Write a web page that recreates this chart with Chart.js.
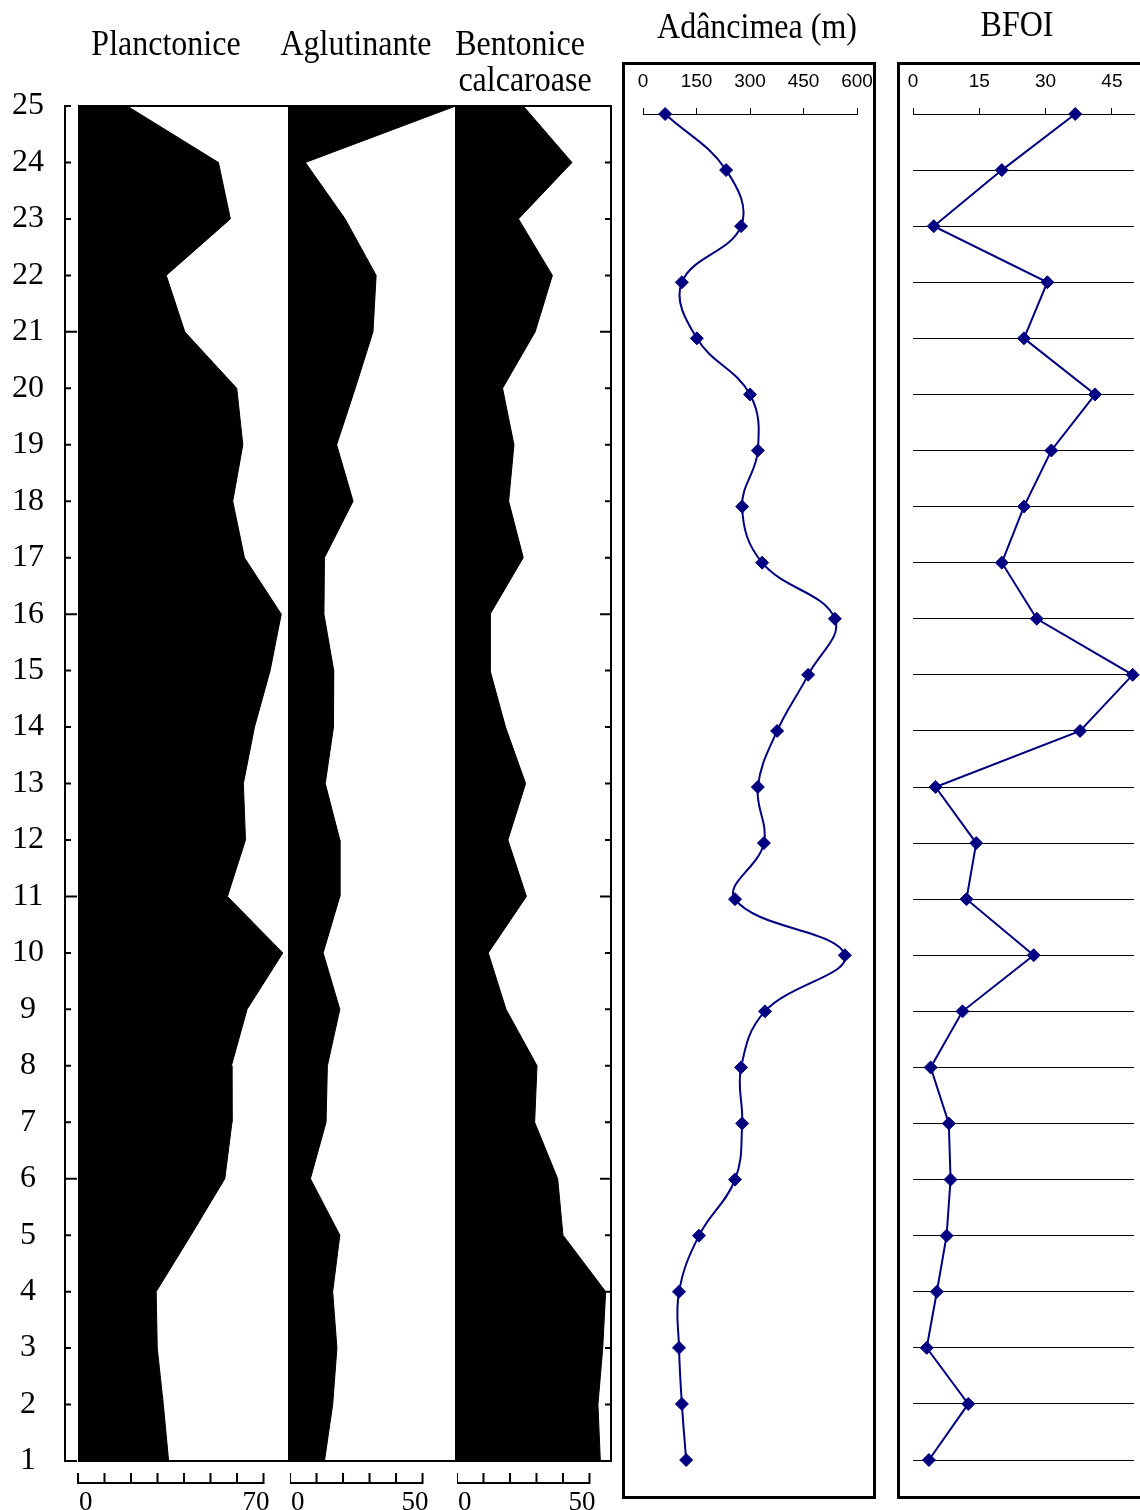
<!DOCTYPE html>
<html>
<head>
<meta charset="utf-8">
<script src="https://cdn.jsdelivr.net/npm/chart.js@4.4.1/dist/chart.umd.min.js"></script>
<style>
html,body{margin:0;padding:0;background:#fff;}
body{width:1140px;height:1510px;overflow:hidden;position:relative;}
canvas{position:absolute;}
.t{position:absolute;width:300px;text-align:center;font-family:"Liberation Serif",serif;font-size:32px;line-height:32px;color:#000;white-space:nowrap;transform:scaleY(1.15);transform-origin:50% 27px;}
.box{position:absolute;box-sizing:border-box;border:3px solid #000;}
</style>
</head>
<body>
<div class="box" style="left:622px;top:62px;width:254px;height:1437px"></div>
<div class="box" style="left:897px;top:62px;width:280px;height:1437px"></div>
<canvas id="cP" width="290" height="1510" style="left:0;top:0"></canvas>
<canvas id="cA" width="167" height="1510" style="left:290px;top:0"></canvas>
<canvas id="cB" width="163" height="1510" style="left:457px;top:0"></canvas>
<canvas id="cD" width="254" height="1437" style="left:622px;top:62px"></canvas>
<canvas id="cF" width="253" height="1437" style="left:897px;top:62px"></canvas>
<div class="t" style="left:16px;top:28px">Planctonice</div>
<div class="t" style="left:206px;top:28px">Aglutinante</div>
<div class="t" style="left:370px;top:28px">Bentonice</div>
<div class="t" style="left:375px;top:64px">calcaroase</div>
<div class="t" style="left:607px;top:11px">Adâncimea (m)</div>
<div class="t" style="left:867px;top:9px">BFOI</div>
<script>
// ---- data (levels from top to bottom) ----
const levels      = [25,24,23,22,21,20,19,18,17,16,15,14,13,12,11,10,9,8,7,6,5,4,3,2,1];
const planctonice = [18.5,53.0,57.5,33.3,40.3,59.9,62.2,58.4,62.8,76.7,72.5,66.6,62.4,63.2,56.4,77.3,63.8,57.9,58.1,55.4,42.6,29.5,29.9,32.2,34.2];
const aglutinante = [62.5,5.8,20.8,32.5,31.3,24.6,17.6,23.8,13.0,12.8,16.5,16.4,13.3,18.8,18.8,12.5,18.8,14.1,13.6,7.7,18.8,16.1,17.7,16.1,13.0];
const bentonice   = [25.0,43.4,23.2,36.0,29.5,17.2,21.5,19.5,25.0,12.5,12.5,18.3,25.9,19.2,26.2,11.8,18.5,30.2,29.3,38.0,40.0,56.1,55.0,53.2,54.1];
const adancime    = [62,233,275,109,151,300,322,278,334,538,463,376,322,339,258,566,342,275,278,258,157,101,101,109,121];
const bfoi        = [36.7,20.1,4.7,30.4,25.1,41.2,31.3,25.1,20.1,28.0,49.7,37.8,5.1,14.3,12.1,27.3,11.2,4.0,8.1,8.5,7.6,5.4,3.1,12.5,3.6];
// scale-bar ranges under the three columns
const barMax      = [70, 50, 50];
const panelMax    = [80, 63, 58.5];
const depthTicks  = {min: 0, max: 600, step: 150};
const bfoiTicks   = {min: 0, max: 50, step: 15};

const navy = '#000080';
const serif = '"Liberation Serif", "Times New Roman", serif';
const sans = '"Liberation Sans", Arial, sans-serif';

function stratDeco(key, bMax, leftAxis, rightTicks) {
  return {
    id: 'deco' + key,
    afterDraw(chart) {
      const {ctx, chartArea: a, scales: {x, y}} = chart;
      ctx.save();
      ctx.strokeStyle = '#000';
      ctx.fillStyle = '#000';
      ctx.lineWidth = 2;
      ctx.beginPath();
      ctx.moveTo(a.left, a.top); ctx.lineTo(a.right, a.top);
      ctx.moveTo(a.left, a.bottom); ctx.lineTo(a.right, a.bottom);
      ctx.moveTo(a.right - 1, a.top); ctx.lineTo(a.right - 1, a.bottom);
      ctx.stroke();
      if (leftAxis) {
        const ax = a.left - 13;
        ctx.beginPath();
        ctx.moveTo(ax, y.getPixelForValue(25) - 1); ctx.lineTo(ax, y.getPixelForValue(1) + 1);
        levels.forEach(l => {
          const py = y.getPixelForValue(l);
          ctx.moveTo(ax, py); ctx.lineTo(ax + ((l - 1) % 5 === 0 ? 12 : 6), py);
        });
        ctx.stroke();
      }
      if (rightTicks) {
        const rx = a.right;
        ctx.beginPath();
        levels.forEach(l => {
          const py = y.getPixelForValue(l);
          ctx.moveTo(rx, py); ctx.lineTo(rx - ((l - 1) % 5 === 0 ? 12 : 7), py);
        });
        ctx.stroke();
      }
      // scale bar
      const by = a.bottom + 22;
      const x0 = x.getPixelForValue(0), x1 = x.getPixelForValue(bMax);
      ctx.beginPath();
      ctx.moveTo(x0, by); ctx.lineTo(x1, by);
      for (let v = 0; v <= bMax; v += 10) {
        const px = x.getPixelForValue(v);
        ctx.moveTo(px, by + 1); ctx.lineTo(px, by - 10);
      }
      ctx.stroke();
      ctx.font = '27px ' + serif;
      ctx.textBaseline = 'alphabetic';
      ctx.textAlign = 'left';
      ctx.fillText('0', x0 + 1, 1510);
      ctx.textAlign = 'right';
      ctx.fillText(String(bMax), x1 + 6, 1510);
      ctx.restore();
    }
  };
}

function stratChart(id, values, idx, padL, padR, showY, rightTicks) {
  const yScale = {
    type: 'linear', min: 1, max: 25, display: showY, position: 'left',
    ticks: {stepSize: 1, color: '#000', font: {family: serif, size: 32}, crossAlign: 'center', padding: 26, autoSkip: false},
    grid: {display: false},
    border: {display: false}
  };
  if (showY) yScale.afterFit = s => { s.width = 78; };
  return new Chart(document.getElementById(id), {
    type: 'line',
    data: {
      datasets: [{
        data: levels.map((l, i) => ({x: values[i], y: l})),
        fill: 'origin',
        backgroundColor: '#000',
        borderColor: '#000',
        borderWidth: 1,
        pointRadius: 0,
        tension: 0
      }]
    },
    options: {
      indexAxis: 'y',
      responsive: false,
      animation: false,
      events: [],
      layout: {padding: {top: 106, bottom: 49, left: padL, right: padR}},
      plugins: {legend: {display: false}, tooltip: {enabled: false}},
      scales: {
        x: {type: 'linear', display: false, min: 0, max: panelMax[idx]},
        y: yScale
      }
    },
    plugins: [stratDeco(id, barMax[idx], showY, rightTicks)]
  });
}

stratChart('cP', planctonice, 0, 0, 0, true, false);
stratChart('cA', aglutinante, 1, 0, 0, false, false);
stratChart('cB', bentonice, 2, 0, 8, false, true);

function profileChart(id, values, ticksCfg, padL, padR, tension, showGrid) {
  return new Chart(document.getElementById(id), {
    type: 'scatter',
    data: {
      datasets: [{
        data: levels.map((l, i) => ({x: values[i], y: l})),
        showLine: true,
        borderColor: navy,
        borderWidth: 2,
        tension: tension,
        pointStyle: 'rectRot',
        pointRadius: 6.5,
        pointBackgroundColor: navy,
        pointBorderColor: navy,
        pointBorderWidth: 1,
        clip: false
      }]
    },
    options: {
      responsive: false,
      animation: false,
      events: [],
      layout: {padding: {top: 0, bottom: 39, left: padL, right: padR}},
      plugins: {legend: {display: false}, tooltip: {enabled: false}},
      scales: {
        x: {
          type: 'linear', position: 'top', min: ticksCfg.min, max: ticksCfg.max,
          ticks: {stepSize: ticksCfg.step, includeBounds: false, autoSkip: false, maxRotation: 0, color: '#000', font: {family: sans, size: 19}, padding: 15},
          grid: {drawOnChartArea: false, tickLength: 6, color: '#000', tickWidth: 1},
          border: {display: true, color: '#000', width: 1},
          afterFit: s => { s.height = 52; s.paddingLeft = 0; s.paddingRight = 0; }
        },
        y: {
          type: 'linear', min: 1, max: 25, display: showGrid,
          ticks: {display: false, stepSize: 1},
          grid: {color: '#000', lineWidth: 1, drawTicks: false},
          border: {display: false},
          afterFit: s => { s.width = 0; s.paddingTop = 0; s.paddingBottom = 0; }
        }
      }
    }
  });
}

profileChart('cD', adancime, depthTicks, 21, 19, 0.4, false);
profileChart('cF', bfoi, bfoiTicks, 16, 16, 0, true);
</script>
</body>
</html>
